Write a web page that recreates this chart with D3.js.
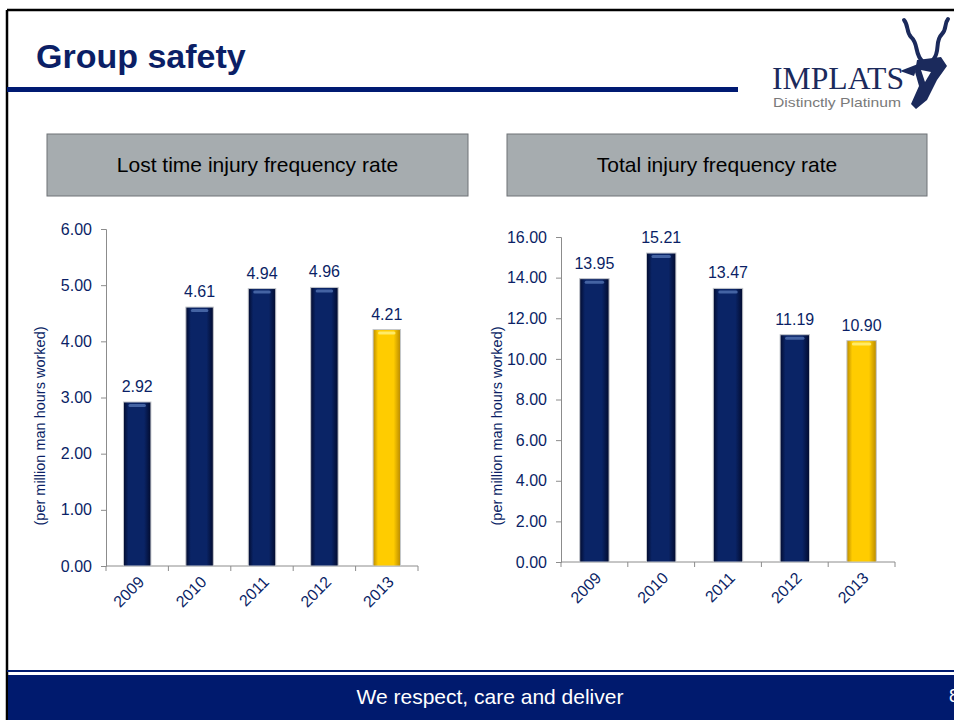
<!DOCTYPE html>
<html lang="en">
<head>
    <meta charset="UTF-8">
    <title>Group safety</title>
    <script src="https://d3js.org/d3.v7.min.js"></script>
    <style>
        body { margin: 0; background: #ffffff; }
        text { font-family: "Liberation Sans", Arial, sans-serif; }
    </style>
</head>
<body>
<script>
    // chart data
    const years = ['2009', '2010', '2011', '2012', '2013'];
    const ltifrValues = [2.92, 4.61, 4.94, 4.96, 4.21];
    const tifrValues = [13.95, 15.21, 13.47, 11.19, 10.90];
    const ltifrTicks = [0, 1, 2, 3, 4, 5, 6];
    const tifrTicks = [0, 2, 4, 6, 8, 10, 12, 14, 16];
    const chartTitles = ['Lost time injury frequency rate', 'Total injury frequency rate'];
    const yLabel = '(per million man hours worked)';

    const navy = '#0b1f66';
    const svg = d3.select('body').append('svg')
        .attr('width', 954)
        .attr('height', 720);

    // gradients for the bevelled bars
    const defs = svg.append('defs');
    function addGradient(id, edge, mid) {
        const g = defs.append('linearGradient').attr('id', id)
            .attr('x1', '0%').attr('x2', '100%').attr('y1', '0%').attr('y2', '0%');
        g.append('stop').attr('offset', '0%').attr('stop-color', edge);
        g.append('stop').attr('offset', '18%').attr('stop-color', mid);
        g.append('stop').attr('offset', '75%').attr('stop-color', mid);
        g.append('stop').attr('offset', '100%').attr('stop-color', edge);
    }
    addGradient('navyGrad', '#020b2e', '#0a2466');
    addGradient('goldGrad', '#b98a00', '#ffcc00');

    // slide frame
    svg.append('line').attr('x1', 7).attr('x2', 954).attr('y1', 10).attr('y2', 10)
        .attr('stroke', '#000').attr('stroke-width', 2.5);
    svg.append('line').attr('x1', 7).attr('x2', 7).attr('y1', 10).attr('y2', 720)
        .attr('stroke', '#000').attr('stroke-width', 2.5);

    // title + rule
    svg.append('text')
        .attr('x', 36).attr('y', 68)
        .style('font-size', '34px').style('font-weight', 'bold')
        .style('fill', navy)
        .text('Group safety');
    svg.append('rect').attr('x', 7).attr('y', 87).attr('width', 731).attr('height', 5)
        .attr('fill', '#001a72');

    // logo
    const logo = svg.append('g');
    logo.append('text')
        .attr('x', 772).attr('y', 89)
        .style('font-family', '"Liberation Serif", "Times New Roman", serif')
        .style('font-size', '32px')
        .attr('textLength', 132)
        .attr('lengthAdjust', 'spacingAndGlyphs')
        .style('fill', '#1b2a5c')
        .text('IMPLATS');
    logo.append('text')
        .attr('x', 773).attr('y', 107)
        .style('font-size', '13px')
        .attr('textLength', 128)
        .attr('lengthAdjust', 'spacingAndGlyphs')
        .style('fill', '#7a7a7a')
        .text('Distinctly Platinum');
    // antelope head (simplified)
    logo.append('path')
        .attr('d', 'M923,62 C914,54 919,44 911,37 C906,32 909,26 904,20')
        .attr('fill', 'none').attr('stroke', '#1b2a5c').attr('stroke-width', 4).attr('stroke-linecap', 'round');
    logo.append('path')
        .attr('d', 'M933,60 C941,51 934,42 942,34 C947,29 944,24 948,19')
        .attr('fill', 'none').attr('stroke', '#1b2a5c').attr('stroke-width', 4).attr('stroke-linecap', 'round');
    logo.append('path')
        .attr('d', 'M917,60 L941,57 L947,66 L937,80 L927,100 L916,109 L911,104 L919,86 L915,72 Z')
        .attr('fill', '#1b2a5c');
    logo.append('path')
        .attr('d', 'M918,64 L900,71 L914,76 Z')
        .attr('fill', '#1b2a5c');
    logo.append('path')
        .attr('d', 'M921,70 L931,72 L925,82 Z')
        .attr('fill', '#ffffff');

    // header boxes
    const boxes = [{ x: 47, w: 421 }, { x: 507, w: 420 }];
    boxes.forEach((b, i) => {
        svg.append('rect')
            .attr('x', b.x).attr('y', 134).attr('width', b.w).attr('height', 62)
            .attr('fill', '#a6acaf')
            .attr('stroke', '#6e7377').attr('stroke-width', 1);
        svg.append('text')
            .attr('x', b.x + b.w / 2).attr('y', 172)
            .attr('text-anchor', 'middle')
            .style('font-size', '21px')
            .style('fill', '#000')
            .text(chartTitles[i]);
    });

    function drawChart(values, ticks, maxVal, left, right, top, bottom, labelX) {
        const g = svg.append('g');
        const x = d3.scaleBand().domain(years).range([left, right]).padding(0);
        const y = d3.scaleLinear().domain([0, maxVal]).range([bottom, top]);
        const barW = x.bandwidth() * 0.44;

        // y axis
        const yAxis = g.append('g')
            .attr('transform', `translate(${left},0)`)
            .call(d3.axisLeft(y).tickValues(ticks).tickFormat(d3.format('.2f')).tickSize(5).tickPadding(9));
        yAxis.select('.domain').attr('stroke', '#8c8c8c');
        yAxis.selectAll('.tick line').attr('stroke', '#8c8c8c');
        yAxis.selectAll('.tick text')
            .style('font-size', '16px')
            .style('font-family', '"Liberation Sans", Arial, sans-serif')
            .style('fill', navy);

        // x axis with ticks at band boundaries
        const bounds = d3.range(years.length + 1).map(i => left + i * x.step());
        g.append('line').attr('x1', left).attr('x2', right).attr('y1', bottom).attr('y2', bottom)
            .attr('stroke', '#8c8c8c');
        g.selectAll('line.xtick').data(bounds).enter().append('line')
            .attr('class', 'xtick')
            .attr('x1', d => d).attr('x2', d => d)
            .attr('y1', bottom).attr('y2', bottom + 5)
            .attr('stroke', '#8c8c8c');

        // bars
        const bars = g.selectAll('g.bar').data(values).enter().append('g').attr('class', 'bar');
        bars.append('rect')
            .attr('x', (d, i) => x(years[i]) + (x.bandwidth() - barW) / 2)
            .attr('y', d => y(d))
            .attr('width', barW)
            .attr('height', d => bottom - y(d))
            .attr('fill', (d, i) => i === years.length - 1 ? 'url(#goldGrad)' : 'url(#navyGrad)')
            .attr('stroke', '#c4c7cc').attr('stroke-width', 1);
        // top highlight
        bars.append('rect')
            .attr('x', (d, i) => x(years[i]) + (x.bandwidth() - barW) / 2 + 5)
            .attr('y', d => y(d) + 2)
            .attr('width', barW - 10)
            .attr('height', 3)
            .attr('rx', 1.5)
            .attr('fill', (d, i) => i === years.length - 1 ? '#fff07a' : '#4f6fae')
            .attr('opacity', 0.85);

        // value labels
        g.selectAll('text.val').data(values).enter().append('text')
            .attr('class', 'val')
            .attr('x', (d, i) => x(years[i]) + x.bandwidth() / 2)
            .attr('y', d => y(d) - 10)
            .attr('text-anchor', 'middle')
            .style('font-size', '16px')
            .style('fill', navy)
            .text(d => d.toFixed(2));

        // category labels
        g.selectAll('text.cat').data(years).enter().append('text')
            .attr('class', 'cat')
            .attr('transform', d => `translate(${x(d) + x.bandwidth() / 2 + 8},${bottom + 17}) rotate(-45)`)
            .attr('text-anchor', 'end')
            .style('font-size', '16px')
            .style('fill', navy)
            .text(d => d);

        // axis title
        g.append('text')
            .attr('transform', `translate(${labelX},426) rotate(-90)`)
            .attr('text-anchor', 'middle')
            .attr('dominant-baseline', 'central')
            .style('font-size', '14.5px')
            .style('fill', navy)
            .text(yLabel);
    }

    drawChart(ltifrValues, ltifrTicks, 6, 106, 418, 229, 566, 40);
    drawChart(tifrValues, tifrTicks, 16, 561, 895, 237, 562, 497);

    // footer
    svg.append('line').attr('x1', 7).attr('x2', 954).attr('y1', 671).attr('y2', 671)
        .attr('stroke', '#001a6e').attr('stroke-width', 2);
    svg.append('rect').attr('x', 8).attr('y', 675).attr('width', 946).attr('height', 45)
        .attr('fill', '#001a6e');
    svg.append('text')
        .attr('x', 490).attr('y', 704)
        .attr('text-anchor', 'middle')
        .style('font-size', '21px')
        .style('fill', '#ffffff')
        .text('We respect, care and deliver');
    svg.append('text')
        .attr('x', 949).attr('y', 702)
        .style('font-size', '18px')
        .style('fill', '#ffffff')
        .text('8');
</script>
</body>
</html>
